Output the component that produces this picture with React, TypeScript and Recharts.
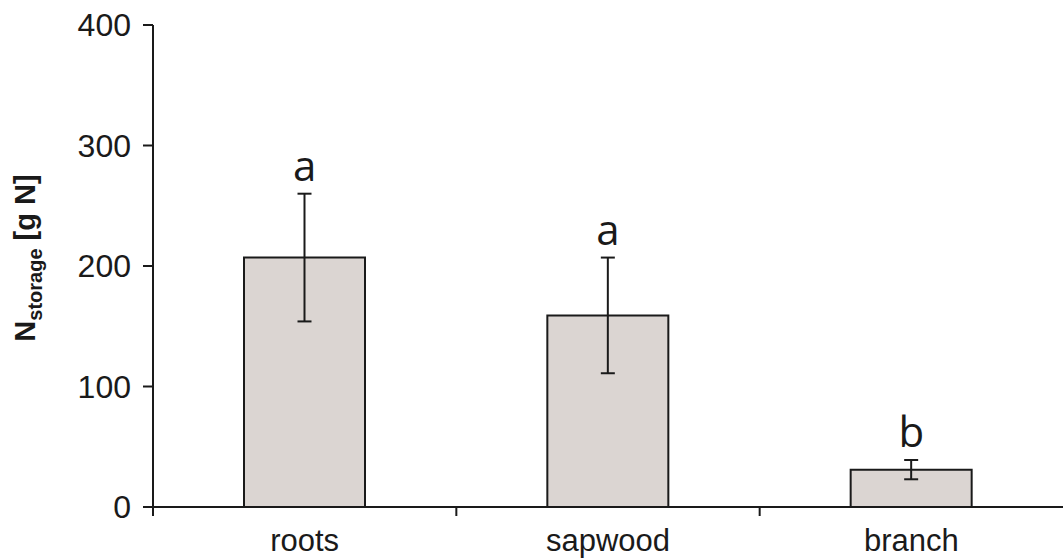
import React from "react";
import {
  BarChart,
  Bar,
  XAxis,
  YAxis,
  ErrorBar,
  ReferenceDot,
} from "recharts";

const categories = ["roots", "sapwood", "branch"];
const means = [207, 159, 31];
const errors = [53, 48, 8];
const letters = ["a", "a", "b"];
const yTicks = [0, 100, 200, 300, 400];

const data = categories.map((name, i) => ({
  name,
  value: means[i],
  err: errors[i],
}));

const INK = "#1a1a1a";
const FONT = "Liberation Sans, Arial, sans-serif";
const X_TICK_GAP = 22;

// category label at the band centre, plus a small tick at the band's left edge
function CatTick(props: any) {
  const { x, y, payload, width, visibleTicksCount } = props;
  const band = width / (visibleTicksCount || categories.length);
  const axisY = y - X_TICK_GAP;
  const edge = x - band / 2;
  return (
    <g>
      <line x1={edge} x2={edge} y1={axisY} y2={axisY + 9} stroke={INK} strokeWidth={2} />
      <text
        x={x}
        y={y}
        dy="0.71em"
        textAnchor="middle"
        fill={INK}
        fontSize={31}
        fontFamily={FONT}
      >
        {payload.value}
      </text>
    </g>
  );
}

function YLabel(props: any) {
  const vb = props.viewBox || { x: 0, y: 0, width: 0, height: 0 };
  const x = vb.x + 35;
  const y = vb.y + vb.height / 2 - 8;
  return (
    <text
      x={x}
      y={y}
      transform={`rotate(-90, ${x}, ${y})`}
      textAnchor="middle"
      fill={INK}
      fontFamily={FONT}
      fontWeight="bold"
      fontSize={29}
    >
      <tspan>N</tspan>
      <tspan fontSize={20} dy={7}>
        storage
      </tspan>
      <tspan dy={-7}> [g N]</tspan>
    </text>
  );
}

export default function App() {
  return (
    <div style={{ position: "absolute", left: 0, top: 0, background: "#fff" }}>
      <BarChart
        width={1063}
        height={560}
        data={data}
        margin={{ top: 25, right: 0, bottom: 0, left: 0 }}
        barSize={121}
      >
        <XAxis
          dataKey="name"
          height={53}
          interval={0}
          axisLine={{ stroke: INK, strokeWidth: 2 }}
          tickLine={false}
          tickSize={0}
          tickMargin={X_TICK_GAP}
          tick={<CatTick />}
        />
        <YAxis
          width={153}
          domain={[0, 400]}
          ticks={yTicks}
          interval={0}
          axisLine={{ stroke: INK, strokeWidth: 2 }}
          tickLine={{ stroke: INK, strokeWidth: 2 }}
          tickSize={10}
          tickMargin={12}
          tick={{ fill: INK, fontSize: 32, fontFamily: FONT }}
          label={<YLabel />}
        />
        <Bar
          dataKey="value"
          fill="#dbd5d2"
          stroke={INK}
          strokeWidth={2}
          isAnimationActive={false}
        >
          <ErrorBar
            dataKey="err"
            width={7}
            stroke={INK}
            strokeWidth={2}
            direction="y"
            isAnimationActive={false}
          />
        </Bar>
        {categories.map((c, i) => (
          <ReferenceDot
            key={c}
            x={c}
            y={means[i] + errors[i]}
            r={0}
            fill="none"
            stroke="none"
            ifOverflow="visible"
            label={{
              value: letters[i],
              position: "top",
              offset: 13,
              fill: INK,
              fontSize: 42,
              fontFamily: "Open Sans, sans-serif",
            }}
          />
        ))}
      </BarChart>
    </div>
  );
}
